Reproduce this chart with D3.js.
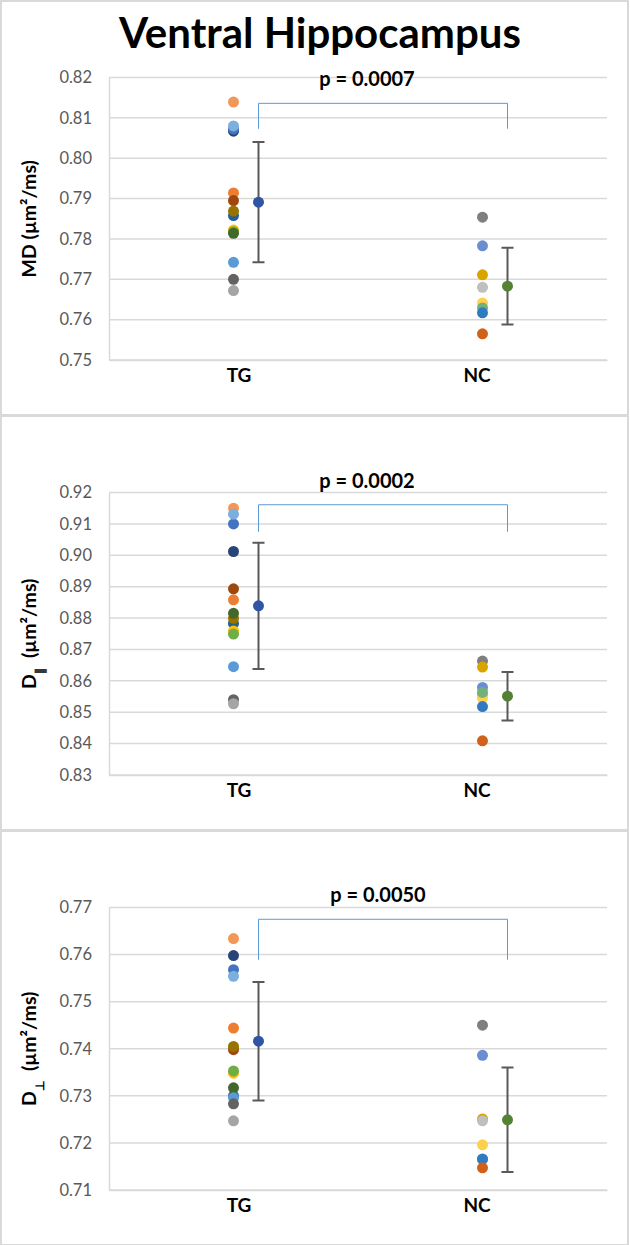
<!DOCTYPE html>
<html>
<head>
<meta charset="utf-8">
<script src="https://cdn.jsdelivr.net/npm/d3@7"></script>
<style>
  body { margin: 0; background: #fff; }
  svg text { font-family: Lato, "Liberation Sans", sans-serif; }
</style>
</head>
<body>
<div id="chart"></div>
<script>
const groups = ["TG", "NC"];

// one colour per animal, Excel-like palette
const tgColors = ["#F1975A", "#264478", "#4472C4", "#7CAFDD", "#ED7D31", "#9E480E", "#255E91", "#997300",
                  "#FFC000", "#70AD47", "#43682B", "#5B9BD5", "#636363", "#A5A5A5"];
const ncColors = ["#7F7F7F", "#6A8FD0", "#D9A300", "#BFBFBF", "#FFD04A", "#72B27A", "#2E7BC4", "#D0601A"];

// MD
const mdTG = [0.8139, 0.8067, 0.8072, 0.8080, 0.7914, 0.7895, 0.7858, 0.7869, 0.7822, 0.7818, 0.7814, 0.7742, 0.7700, 0.7672];
const mdNC = [0.7854, 0.7783, 0.7711, 0.7680, 0.7641, 0.7629, 0.7617, 0.7565];
// D parallel
const dparTG = [0.9150, 0.9012, 0.9100, 0.9131, 0.8858, 0.8893, 0.8783, 0.8799, 0.8759, 0.8749, 0.8815, 0.8645, 0.8540, 0.8527];
const dparNC = [0.8663, 0.8579, 0.8644, 0.8555, 0.8545, 0.8563, 0.8518, 0.8409];
// D perpendicular
const dperpTG = [0.7634, 0.7598, 0.7568, 0.7554, 0.7444, 0.7398, 0.7300, 0.7405, 0.7348, 0.7353, 0.7317, 0.7296, 0.7283, 0.7247];
const dperpNC = [0.7450, 0.7386, 0.7251, 0.7247, 0.7196, 0.7165, 0.7166, 0.7147];

// group mean and SD
const meanMD = [0.7891, 0.7683], sdMD = [0.0149, 0.0095];
const meanDpar = [0.8839, 0.8551], sdDpar = [0.0201, 0.0077];
const meanDperp = [0.7416, 0.7249], sdDperp = [0.0126, 0.0111];

const pLabels = ["p = 0.0007", "p = 0.0002", "p = 0.0050"];
const bracketTop = [0.8136, 0.9161, 0.7675];
const bracketBottom = [0.8073, 0.9075, 0.7589];
const yDomains = [[0.75, 0.82], [0.83, 0.92], [0.71, 0.77]];

const meanColors = ["#2F55A4", "#548235"];

const panels = [
    {tg: mdTG, nc: mdNC, mean: meanMD, sd: sdMD, label: "MD"},
    {tg: dparTG, nc: dparNC, mean: meanDpar, sd: sdDpar, label: "par"},
    {tg: dperpTG, nc: dperpNC, mean: meanDperp, sd: sdDperp, label: "perp"}
];

const width = 630, height = 1245;
const panelH = 415;
const margin = {left: 109, right: 23, top: 77.5, bottom: 55};
// p label sits a bit left of the bracket middle, except on the last panel
const pShift = [-16, -16, -5];

const svg = d3.select("#chart").append("svg")
    .attr("width", width)
    .attr("height", height);

const x = d3.scalePoint()
    .domain(groups)
    .range([margin.left, width - margin.right])
    .padding(0.5);

const meanOffset = 25;

panels.forEach((p, i) => {
    const g = svg.append("g").attr("transform", `translate(0,${i * panelH})`);

    g.append("rect")
        .attr("x", 1).attr("y", 1)
        .attr("width", width - 3)
        .attr("height", panelH - 1)
        .attr("fill", "#fff")
        .attr("stroke", "#d9d9d9")
        .attr("stroke-width", 2);

    const y = d3.scaleLinear()
        .domain(yDomains[i])
        .range([panelH - margin.bottom, margin.top]);

    const ticks = d3.range(yDomains[i][0], yDomains[i][1] + 0.0001, 0.01);

    // gridlines
    g.append("g")
        .selectAll("line")
        .data(ticks)
        .join("line")
        .attr("x1", margin.left)
        .attr("x2", width - margin.right)
        .attr("y1", d => y(d))
        .attr("y2", d => y(d))
        .attr("stroke", "#d9d9d9")
        .attr("stroke-width", 1.5);

    // y axis
    const yAxis = g.append("g")
        .attr("transform", `translate(${margin.left},0)`)
        .call(d3.axisLeft(y).tickValues(ticks).tickFormat(d3.format(".2f")).tickSize(0).tickPadding(17));
    yAxis.select(".domain").attr("stroke", "#d9d9d9").attr("stroke-width", 1.5);
    yAxis.selectAll("text")
        .attr("fill", "#595959")
        .style("font-size", "16.5px");

    // x axis labels
    const xAxis = g.append("g")
        .attr("transform", `translate(0,${panelH - margin.bottom})`)
        .call(d3.axisBottom(x).tickSize(0).tickPadding(9));
    xAxis.select(".domain").attr("stroke", "#d9d9d9").attr("stroke-width", 1.5);
    xAxis.selectAll("text")
        .attr("fill", "#000")
        .attr("dx", d => d === "TG" ? 5 : -6)
        .style("font-size", "19px")
        .style("font-weight", "bold");

    // y axis title
    const yt = g.append("text")
        .attr("transform", `translate(36,${(margin.top + panelH - margin.bottom) / 2}) rotate(-90)`)
        .attr("text-anchor", "middle")
        .style("font-size", "19.5px")
        .style("font-weight", "bold");
    if (p.label === "MD") {
        yt.text("MD (µm²/ms)");
    } else {
        yt.append("tspan").text("D");
        yt.append("tspan")
            .attr("baseline-shift", "sub")
            .style("font-size", "12px")
            .text(p.label === "par" ? "∥" : "⊥");
        yt.append("tspan").attr("dx", 10).text("(µm²/ms)");
    }

    // bracket
    const bx1 = x("TG") + meanOffset, bx2 = x("NC") + meanOffset;
    g.append("path")
        .attr("d", `M${bx1},${y(bracketBottom[i])}V${y(bracketTop[i])}H${bx2}V${y(bracketBottom[i])}`)
        .attr("fill", "none")
        .attr("stroke", "#5B9BD5")
        .attr("stroke-width", 1);

    g.append("text")
        .attr("x", (bx1 + bx2) / 2 + pShift[i])
        .attr("y", y(bracketTop[i]) - 17)
        .attr("text-anchor", "middle")
        .style("font-size", "20px")
        .style("font-weight", "bold")
        .text(pLabels[i]);

    // individual points
    const pts = [];
    p.tg.forEach((v, k) => pts.push({grp: "TG", v, c: tgColors[k]}));
    p.nc.forEach((v, k) => pts.push({grp: "NC", v, c: ncColors[k]}));
    g.append("g")
        .selectAll("circle")
        .data(pts)
        .join("circle")
        .attr("cx", d => x(d.grp))
        .attr("cy", d => y(d.v))
        .attr("r", 5.5)
        .attr("fill", d => d.c);

    // mean +/- sd
    groups.forEach((grp, k) => {
        const cx = x(grp) + meanOffset;
        const lo = y(p.mean[k] - p.sd[k]), hi = y(p.mean[k] + p.sd[k]);
        g.append("path")
            .attr("d", `M${cx},${lo}V${hi}M${cx - 6},${lo}H${cx + 6}M${cx - 6},${hi}H${cx + 6}`)
            .attr("stroke", "#595959")
            .attr("stroke-width", 2)
            .attr("fill", "none");
        g.append("circle")
            .attr("cx", cx)
            .attr("cy", y(p.mean[k]))
            .attr("r", 5.5)
            .attr("fill", meanColors[k]);
    });
});

svg.append("text")
    .attr("x", 320)
    .attr("y", 48)
    .attr("text-anchor", "middle")
    .style("font-size", "42px")
    .style("font-weight", "bold")
    .text("Ventral Hippocampus");
</script>
</body>
</html>
